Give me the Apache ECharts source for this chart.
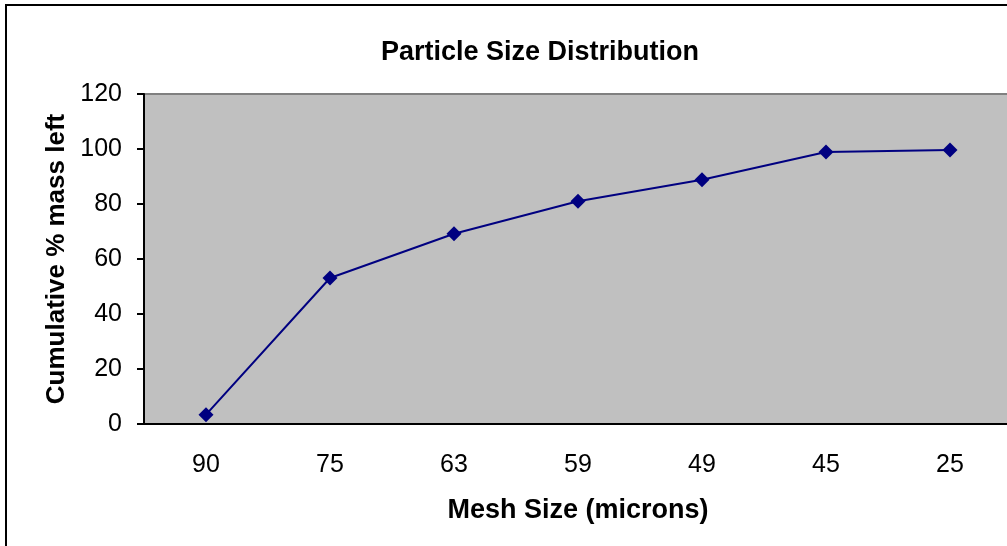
<!DOCTYPE html>
<html>
<head>
<meta charset="utf-8">
<script src="https://cdn.jsdelivr.net/npm/echarts@6/dist/echarts.min.js"></script>
<style>
  html, body { margin: 0; padding: 0; background: #fff; overflow: hidden; }
  /* a bit wider than the window: the plot runs off the right edge like the original */
  #chart { width: 1020px; height: 546px; }
</style>
</head>
<body>
<div id="chart"></div>
<script>
// mesh sizes (microns), read left to right
const meshSizes = ['90', '75', '63', '59', '49', '45', '25'];
// cumulative % mass left
const cumulativeMass = [3.4, 53.1, 69.2, 81.0, 88.8, 98.9, 99.6];

const chart = echarts.init(document.getElementById('chart'), null, { renderer: 'canvas' });

const font = 'Liberation Sans, Arial, sans-serif';

chart.setOption({
  backgroundColor: '#ffffff',
  animation: false,
  title: {
    text: 'Particle Size Distribution',
    left: 535,
    top: 34,
    textAlign: 'center',
    textStyle: { fontFamily: font, fontSize: 27, fontWeight: 'bold', color: '#000' }
  },
  graphic: [{
    // outer chart frame
    type: 'rect',
    shape: { x: 6, y: 5, width: 1030, height: 560 },
    style: { fill: 'none', stroke: '#000', lineWidth: 2 },
    silent: true
  }],
  grid: {
    left: 144,
    top: 94,
    width: 868,
    height: 330,
    show: true,
    backgroundColor: '#c0c0c0',
    borderColor: '#808080',
    borderWidth: 2
  },
  xAxis: {
    type: 'category',
    data: meshSizes,
    boundaryGap: true,
    name: 'Mesh Size (microns)',
    nameLocation: 'middle',
    nameGap: 73,
    nameTextStyle: { fontFamily: font, fontSize: 27, fontWeight: 'bold', color: '#000' },
    axisLine: { lineStyle: { color: '#000', width: 2 } },
    axisTick: { length: 8, lineStyle: { color: '#000', width: 2 } },
    axisLabel: { fontFamily: font, fontSize: 25, color: '#000', margin: 29 }
  },
  yAxis: {
    type: 'value',
    min: 0,
    max: 120,
    interval: 20,
    name: 'Cumulative % mass left',
    nameLocation: 'middle',
    nameGap: 74,
    nameTextStyle: { fontFamily: font, fontSize: 26, fontWeight: 'bold', color: '#000' },
    axisLine: { show: true, lineStyle: { color: '#000', width: 2 } },
    axisTick: { show: true, length: 7, lineStyle: { color: '#000', width: 2 } },
    axisLabel: { fontFamily: font, fontSize: 25, color: '#000', margin: 22, padding: [6, 0, 0, 0] },
    splitLine: { show: false }
  },
  series: [{
    type: 'line',
    data: cumulativeMass,
    symbol: 'diamond',
    symbolSize: 15,
    lineStyle: { color: '#000080', width: 2 },
    itemStyle: { color: '#000080' }
  }]
});
</script>
</body>
</html>
